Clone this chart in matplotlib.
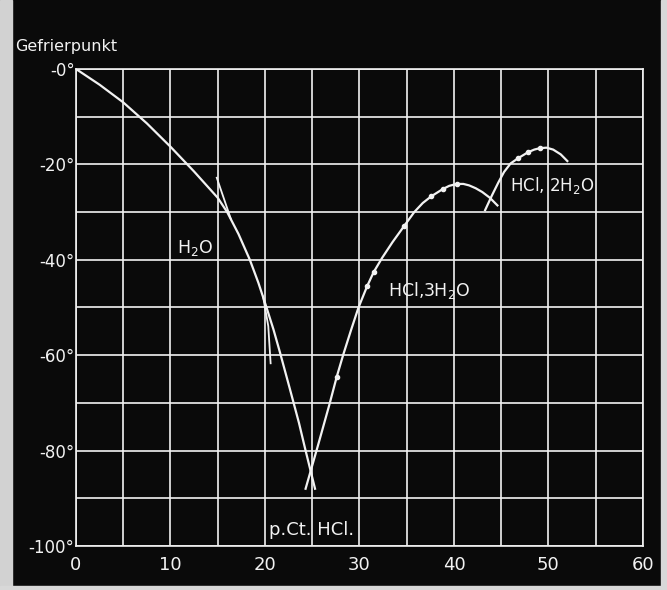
import matplotlib
matplotlib.use("Agg")
import matplotlib.pyplot as plt
from matplotlib.patches import Rectangle

# Eis-Kurve (H2O), p.Ct. HCl -> Gefrierpunkt
ice_x = [0, 2.5, 5, 7.5, 10, 12.5, 15, 16, 17.2, 18.4, 19.3, 20.1, 20.9, 21.6,
         22.6, 23.6, 24.3, 25.3]
ice_y = [0, -3.3, -7, -11.4, -16.3, -21.5, -27, -30, -34.6, -40, -44.8, -49.6,
         -54.6, -59.5, -66.8, -74.2, -80, -88]

# kurze Tangentenstuecke an der H2O-Kurve
tan1_x = [14.9, 16.4]
tan1_y = [-22.8, -31.5]
tan2_x = [19.8, 20.35, 20.6]
tan2_y = [-47.7, -53.9, -61.7]

# HCl,3H2O
tri_x = [24.3, 25.6, 26.8, 27.6, 28.3, 29.1, 29.9, 30.8, 31.5, 32.4, 33.5, 34.7,
         35.8, 36.7, 37.6, 38.8, 39.5, 40.3, 41.0, 41.6, 42.3, 43.0, 43.8, 44.6]
tri_y = [-88, -79, -70.5, -64.5, -59.8, -54.8, -50, -45.6, -42.6, -39.6, -36.3,
         -33.0, -30.0, -28.1, -26.7, -25.2, -24.5, -24.1, -24.1, -24.4, -25.0,
         -25.8, -27.0, -28.6]
tri_pts_x = [27.6, 30.8, 31.5, 34.7, 37.6, 38.8, 40.3]
tri_pts_y = [-64.5, -45.6, -42.6, -33.0, -26.7, -25.2, -24.1]

# HCl,2H2O
di_x = [43.3, 44.0, 44.7, 45.3, 46.0, 46.8, 47.8, 48.5, 49.1, 49.8, 50.5, 51.3, 52.0]
di_y = [-29.6, -26.6, -23.8, -21.6, -19.8, -18.7, -17.5, -16.9, -16.6, -16.5,
        -16.9, -17.9, -19.3]
di_pts_x = [46.8, 47.8, 49.1]
di_pts_y = [-18.7, -17.5, -16.6]

x_ticks = [0, 10, 20, 30, 40, 50, 60]
y_ticks = [0, -20, -40, -60, -80, -100]
y_labels = ["-0°", "-20°", "-40°", "-60°", "-80°", "-100°"]

FG = "#f2f2f2"
BG = "#0a0a0a"


def main():
    fig = plt.figure(figsize=(6.67, 5.9), dpi=100, facecolor=BG)
    # heller Rand des Scans
    fig.patches.append(Rectangle((0, 0), 12 / 667, 1, transform=fig.transFigure,
                                 color="#d2d2d2", zorder=0))
    fig.patches.append(Rectangle((661 / 667, 0), 6 / 667, 1, transform=fig.transFigure,
                                 color="#d8d8d8", zorder=0))
    fig.patches.append(Rectangle((0, 0), 1, 4 / 590, transform=fig.transFigure,
                                 color="#d8d8d8", zorder=0))

    ax = fig.add_axes([0.1139, 0.0746, 0.850, 0.8085])
    ax.set_facecolor(BG)
    ax.set_xlim(0, 60)
    ax.set_ylim(-100, 0)

    ax.set_xticks(x_ticks)
    ax.set_xticks([5, 15, 25, 35, 45, 55], minor=True)
    ax.set_yticks(y_ticks)
    ax.set_yticklabels(y_labels)
    ax.set_yticks([-10, -30, -50, -70, -90], minor=True)
    ax.grid(True, which="both", color=FG, linewidth=1.2)
    ax.set_axisbelow(True)
    for s in ax.spines.values():
        s.set_color(FG)
        s.set_linewidth(1.2)
    ax.tick_params(which="both", length=0, colors=FG)
    ax.tick_params(axis="x", labelsize=13, pad=7)
    ax.tick_params(axis="y", labelsize=12, pad=1)

    lw = 1.6
    ax.plot(ice_x, ice_y, color=FG, lw=lw)
    ax.plot(tan1_x, tan1_y, color=FG, lw=1.3)
    ax.plot(tan2_x, tan2_y, color=FG, lw=1.3)
    ax.plot(tri_x, tri_y, color=FG, lw=lw)
    ax.plot(di_x, di_y, color=FG, lw=lw)
    ax.plot(tri_pts_x, tri_pts_y, "o", color=FG, ms=3)
    ax.plot(di_pts_x, di_pts_y, "o", color=FG, ms=3)

    ax.text(10.7, -37.6, r"H$_2$O", color=FG, fontsize=12.5, va="center")
    ax.text(33.0, -46.4, r"HCl,3H$_2$O", color=FG, fontsize=12.5, va="center")
    ax.text(45.9, -24.5, r"HCl, 2H$_2$O", color=FG, fontsize=12, va="center")
    ax.text(24.9, -98.5, "p.Ct. HCl.", color=FG, fontsize=13, ha="center", va="bottom")

    fig.text(15 / 667, 1 - 46 / 590, "Gefrierpunkt", color=FG, fontsize=11.5,
             va="center", ha="left")

    fig.savefig("out.png", dpi=100, facecolor=BG)


if __name__ == '__main__':
    main()
